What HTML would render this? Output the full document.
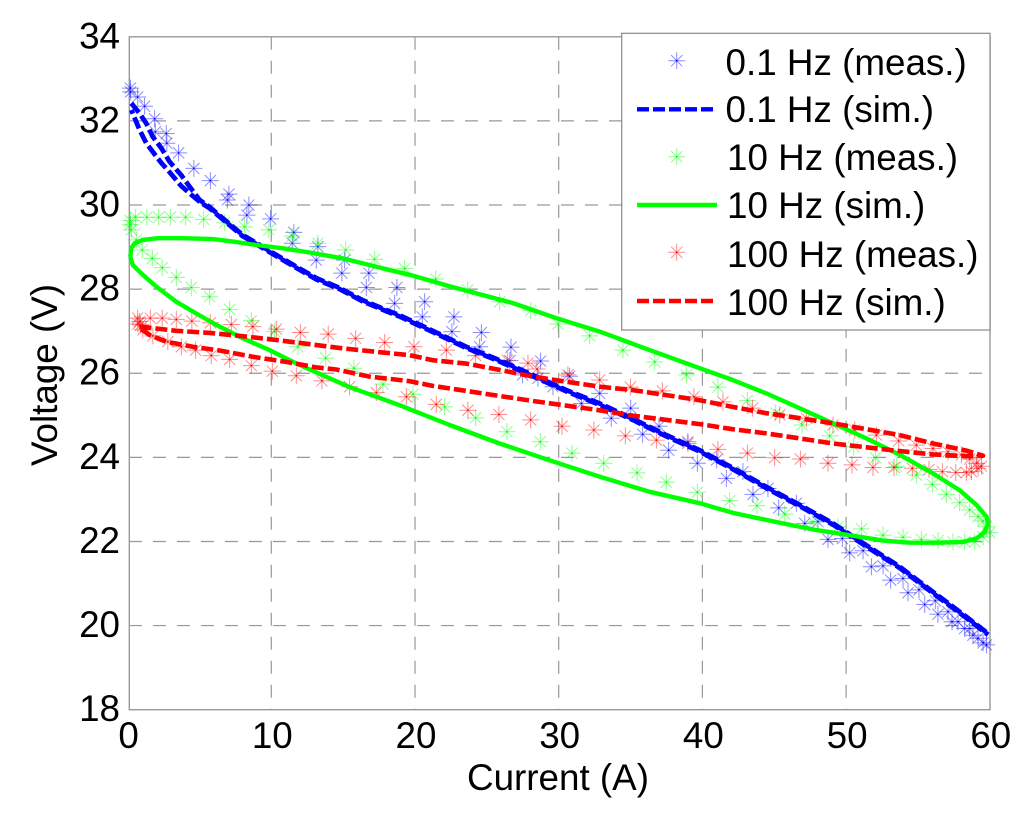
<!DOCTYPE html>
<html>
<head>
<meta charset="utf-8">
<title>Voltage vs Current</title>
<style>
html,body{margin:0;padding:0;background:#fff;}
svg{display:block;}
text{font-family:"Liberation Sans",sans-serif;font-size:36.8px;fill:#000;}
</style>
</head>
<body>
<svg id="chart" xmlns="http://www.w3.org/2000/svg" width="1024" height="817" viewBox="0 0 1024 817">
  <rect x="0" y="0" width="1024" height="817" fill="#fff"/>
  <g id="grid"></g>
  <rect x="129.3" y="36.8" width="860.7" height="672.9" fill="none" stroke="#999" stroke-width="1.4"/>
  <g id="ticks"></g>
  <g id="marks"></g>
  <text x="558" y="790" text-anchor="middle">Current (A)</text>
  <text transform="translate(57 375) rotate(-90)" text-anchor="middle">Voltage (V)</text>
  <g id="legend">
    <rect x="621.7" y="33.3" width="368.3" height="296.7" fill="#fff" stroke="#888" stroke-width="1.2"/>
    <text x="725.5" y="75">0.1 Hz (meas.)</text>
    <text x="725.5" y="122">0.1 Hz (sim.)</text>
    <text x="727" y="170">10 Hz (meas.)</text>
    <text x="727" y="218">10 Hz (sim.)</text>
    <text x="727" y="267">100 Hz (meas.)</text>
    <text x="727" y="315">100 Hz (sim.)</text>
    <line x1="637" y1="109.3" x2="717" y2="109.3" stroke="#0000ff" stroke-width="4.4" stroke-dasharray="12 4"/>
    <line x1="637" y1="205" x2="717" y2="205" stroke="#00ff00" stroke-width="4.4"/>
    <line x1="637" y1="301" x2="717" y2="301" stroke="#ff0000" stroke-width="4.4" stroke-dasharray="12 4"/>
  </g>
</svg>
<script>
// Axis tick labels
const xTicks = [0,10,20,30,40,50,60];
const yTicks = [18,20,22,24,26,28,30,32,34];

// 0.1 Hz measured
const blueMeasI = [.19,.21,.70,1.18,1.88,1.93,2.69,2.73,3.55,4.61,5.76,7.05,6.94,8.44,8.30,9.95,11.57,11.46,13.24,13.13,15.10,14.91,16.79,16.61,18.74,18.58,20.67,20.51,22.71,22.57,24.62,24.50,26.68,26.60,27.49,28.74,28.56,30.76,29.6,32.85,31.58,35.01,33.66,36.98,35.84,38.99,37.65,40.99,39.65,42.82,41.67,44.56,43.52,46.54,45.31,48.04,47.12,49.74,48.74,51.18,50.25,52.57,51.76,53.96,53.10,55.07,54.31,56.21,55.47,57.09,56.39,57.79,57.37,58.25,58.6,58.83,59.18,59.53,59.77];
const blueMeasV = [32.78,32.69,32.57,32.35,32.05,31.74,31.70,31.47,31.24,30.87,30.58,30.26,30.12,30.0,29.76,29.67,29.35,29.09,29.01,28.69,28.69,28.38,28.38,28.04,28.04,27.66,27.70,27.34,27.34,26.99,26.97,26.63,26.62,26.30,25.96,26.29,25.88,25.93,25.68,25.52,25.28,25.17,24.93,24.74,24.55,24.37,24.17,23.94,23.86,23.66,23.50,23.26,23.12,22.91,22.80,22.47,22.43,22.07,22.05,21.78,21.73,21.42,21.40,21.12,21.08,20.85,20.78,20.59,20.50,20.33,20.27,20.09,20.09,19.93,19.93,19.77,19.70,19.59,19.54];

// 0.1 Hz simulated (outbound + return branch)
const blueSimI = [.26,.83,1.30,1.76,2.35,2.92,3.74,4.31,5.01,5.71,6.61,8.0,9.19,10.37,11.76,13.15,14.75,16.35,18.03,18.93,21.23,23.57,25.89,28.19,30.53,32.85,35.15,37.49,39.81,42.11,44.45,46.77,49.09,51.41,53.73,56.05,58.37,59.88];
const blueSimOutV = [32.42,32.18,31.94,31.62,31.35,31.03,30.71,30.44,30.12,29.95,29.69,29.29,29.05,28.81,28.53,28.26,28.03,27.74,27.50,27.38,27.01,26.63,26.31,25.96,25.60,25.28,24.92,24.53,24.17,23.75,23.30,22.87,22.43,21.91,21.40,20.80,20.21,19.81];
const blueSimBackV = [32.26,31.79,31.47,31.26,31.0,30.78,30.45,30.28,30.08,29.92,29.66,29.26,29.02,28.78,28.50,28.23,28.00,27.71,27.47,27.35,26.98,26.60,26.28,25.93,25.57,25.25,24.89,24.50,24.14,23.72,23.27,22.84,22.40,21.88,21.37,20.77,20.18,19.78];

// 10 Hz measured
const greenMeasI = [.19,.19,.26,.56,1.34,2.16,2.97,4.04,5.29,6.75,8.14,9.83,11.46,13.24,15.17,17.19,19.28,21.44,23.66,25.89,28.05,29.95,32.15,34.47,36.68,38.89,41.08,43.13,45.10,46.93,48.86,50.53,52.04,53.50,54.89,56.0,56.98,57.9,58.6,59.18,59.53,59.77,60.0,59.53,58.95,58.25,57.44,56.40,55.24,53.96,52.57,51.07,49.44,47.70,45.73,43.80,41.90,39.65,37.49,35.45,33.13,30.92,28.72,26.40,24.22,22.06,19.86,17.77,15.75,13.78,11.85,10.23,8.61,7.10,5.71,4.43,3.39,2.41,1.72,1.02,.6];
const greenMeasV = [29.63,29.53,29.41,29.71,29.71,29.71,29.71,29.71,29.66,29.58,29.48,29.41,29.26,29.09,28.93,28.71,28.49,28.24,27.98,27.70,27.49,27.17,26.89,26.55,26.27,25.96,25.67,25.35,25.06,24.77,24.51,24.25,23.99,23.78,23.58,23.36,23.12,22.92,22.75,22.59,22.49,22.35,22.21,22.11,21.99,21.99,21.99,22.02,22.05,22.10,22.15,22.30,22.35,22.46,22.65,22.85,22.97,23.17,23.41,23.63,23.86,24.10,24.37,24.61,24.94,25.20,25.50,25.74,26.12,26.36,26.63,26.99,27.25,27.52,27.82,28.04,28.28,28.51,28.73,28.93,29.17];

// 10 Hz simulated (closed loop)
const greenSimI = [.19,.26,.49,1.06,2.11,3.85,5.94,7.33,8.96,10.81,12.67,14.98,17.31,19.63,22.41,26.79,29.84,32.85,36.33,39.81,42.11,44.45,46.77,49.07,51.41,53.73,56.03,57.9,59.07,59.77,59.88,59.65,59.07,58.14,56.51,54.43,52.57,50.25,47.93,45.61,42.13,39.81,36.33,32.85,29.37,25.89,22.41,18.93,15.45,12.67,11.51,9.88,8.02,6.17,4.78,3.39,2.0,1.06,.37,.19];
const greenSimV = [28.77,28.97,29.09,29.17,29.21,29.21,29.19,29.13,29.05,28.97,28.87,28.73,28.53,28.34,28.07,27.67,27.31,26.99,26.55,26.12,25.84,25.52,25.17,24.81,24.45,24.06,23.62,23.22,22.87,22.59,22.43,22.23,22.07,21.99,21.97,21.97,22.02,22.15,22.27,22.43,22.68,22.91,23.18,23.54,23.93,24.33,24.77,25.24,25.67,26.09,26.27,26.55,26.83,27.15,27.42,27.70,28.06,28.34,28.57,28.77];

// 100 Hz measured
const redMeasI = [.83,.70,.90,1.58,2.41,3.39,4.47,5.76,7.22,8.72,10.35,12.02,13.96,15.87,17.89,19.93,22.18,24.22,26.43,27.86,28.49,30.64,32.85,34.99,37.21,39.41,41.43,43.48,45.38,47.24,49.09,50.60,52.11,53.66,54.89,56.05,57.09,58.02,58.6,59.07,59.42,59.18,58.72,58.37,57.63,56.70,55.77,54.61,53.33,51.87,50.41,48.74,46.82,45.03,43.13,41.08,38.99,36.80,34.64,32.45,30.23,28.05,25.84,23.68,21.48,19.40,17.31,15.45,13.52,11.74,10.07,8.61,7.10,5.82,4.73,3.74,2.80,1.76,1.06,.72];
const redMeasV = [27.23,27.31,27.15,27.31,27.31,27.28,27.24,27.20,27.16,27.11,27.05,26.97,26.93,26.83,26.73,26.63,26.55,26.42,26.31,26.24,26.10,25.96,25.84,25.67,25.58,25.44,25.32,25.17,25.01,24.93,24.77,24.65,24.53,24.39,24.29,24.21,24.13,24.06,23.96,23.86,23.79,23.74,23.66,23.64,23.64,23.66,23.71,23.74,23.76,23.76,23.82,23.86,23.96,23.99,24.10,24.19,24.33,24.41,24.51,24.65,24.74,24.89,25.02,25.12,25.26,25.44,25.54,25.68,25.82,25.94,26.05,26.18,26.33,26.42,26.55,26.63,26.75,26.89,27.03,27.17];

// 100 Hz simulated (closed loop)
const redSimI = [.83,3.39,5.71,8.0,10.35,12.67,14.98,17.31,19.63,21.23,23.57,25.89,28.21,30.53,32.85,35.15,37.49,39.81,42.11,44.45,46.77,49.07,51.41,53.73,56.05,58.37,59.53,58.37,56.03,53.73,51.41,49.09,46.77,44.45,42.11,39.81,37.49,35.17,32.85,30.53,28.21,25.89,23.57,21.23,19.63,16.84,14.52,13.13,11.04,8.72,6.40,4.54,2.69,1.53,.83];
const redSimV = [27.11,27.01,26.96,26.88,26.79,26.69,26.59,26.51,26.43,26.31,26.23,26.08,25.92,25.80,25.68,25.60,25.48,25.36,25.20,25.05,24.93,24.81,24.67,24.53,24.33,24.16,24.04,24.03,24.07,24.15,24.24,24.33,24.45,24.57,24.67,24.79,24.89,24.99,25.12,25.23,25.34,25.46,25.58,25.70,25.81,25.92,26.09,26.14,26.27,26.39,26.54,26.63,26.75,26.91,27.08];

const SVG_NS = 'http://www.w3.org/2000/svg';
const xScale = i => 127.6 + i * 14.37;
const yScale = v => 36.8 + (34 - v) * 42.056;

function make(tag, parent) {
  const el = document.createElementNS(SVG_NS, tag);
  parent.appendChild(el);
  return el;
}

function star(parent, cx, cy, color, name) {
  const g = make('g', parent);
  
  
  const r = 8.5, d = 5.6;
  const p = make('path', g);
  p.setAttribute('d', 'M' + (cx - r) + ' ' + cy + 'H' + (cx + r) + 'M' + cx + ' ' + (cy - r) + 'V' + (cy + r) +
    'M' + (cx - d) + ' ' + (cy - d) + 'L' + (cx + d) + ' ' + (cy + d) +
    'M' + (cx - d) + ' ' + (cy + d) + 'L' + (cx + d) + ' ' + (cy - d));
  p.setAttribute('stroke', color);
  p.setAttribute('stroke-opacity', '0.45');
  p.setAttribute('stroke-width', '1');
  p.setAttribute('fill', 'none');
  const c = make('circle', g);
  c.setAttribute('cx', cx);
  c.setAttribute('cy', cy);
  c.setAttribute('r', '0.9');
  c.setAttribute('fill', color);
}

function polyline(parent, xs, ys, color, width, dash, offset, name) {
  const p = make('path', parent);
  
  
  p.setAttribute('d', xs.map((x, k) => (k ? 'L' : 'M') + xScale(x).toFixed(1) + ' ' + yScale(ys[k]).toFixed(1)).join(''));
  p.setAttribute('fill', 'none');
  p.setAttribute('stroke', color);
  p.setAttribute('stroke-width', width);
  p.setAttribute('stroke-linejoin', 'round');
  if (dash) {
    p.setAttribute('stroke-dasharray', dash);
    p.setAttribute('stroke-dashoffset', offset);
  }
}

const grid = document.getElementById('grid');
xTicks.slice(1, -1).forEach(t => {
  const l = make('line', grid);
  
  
  l.setAttribute('x1', xScale(t));
  l.setAttribute('x2', xScale(t));
  l.setAttribute('y1', yScale(34));
  l.setAttribute('y2', yScale(18));
  l.setAttribute('stroke', '#999');
  l.setAttribute('stroke-width', '1.2');
  l.setAttribute('stroke-dasharray', '13 11');
});
yTicks.slice(1, -1).forEach(t => {
  const l = make('line', grid);
  
  
  l.setAttribute('x1', 129);
  l.setAttribute('x2', 990);
  l.setAttribute('y1', yScale(t));
  l.setAttribute('y2', yScale(t));
  l.setAttribute('stroke', '#999');
  l.setAttribute('stroke-width', '1.2');
  l.setAttribute('stroke-dasharray', '13 11');
});

const ticks = document.getElementById('ticks');
xTicks.forEach(t => {
  const e = make('text', ticks);
  
  
  e.setAttribute('x', xScale(t) + 1);
  e.setAttribute('y', 748);
  e.setAttribute('text-anchor', 'middle');
  e.textContent = t;
});
yTicks.forEach(t => {
  const e = make('text', ticks);
  
  
  e.setAttribute('x', 120);
  e.setAttribute('y', yScale(t) + 11.5);
  e.setAttribute('text-anchor', 'end');
  e.textContent = t;
});

const marks = document.getElementById('marks');
blueMeasI.forEach((x, k) => star(marks, xScale(x), yScale(blueMeasV[k]), '#0000ff', 'point-0-1hz-meas'));
greenMeasI.forEach((x, k) => star(marks, xScale(x), yScale(greenMeasV[k]), '#00ff00', 'point-10hz-meas'));
redMeasI.forEach((x, k) => star(marks, xScale(x), yScale(redMeasV[k]), '#ff0000', 'point-100hz-meas'));

polyline(marks, blueSimI, blueSimOutV, '#0000ff', 4.8, '12 4', 0, 'line-0-1hz-sim-outbound');
polyline(marks, blueSimI, blueSimBackV, '#0000ff', 4.8, '12 4', 8, 'line-0-1hz-sim-return');
polyline(marks, greenSimI, greenSimV, '#00ff00', 4.4, null, 0, 'line-10hz-sim');
polyline(marks, redSimI, redSimV, '#ff0000', 4.6, '12 4', 0, 'line-100hz-sim');

const legend = document.getElementById('legend');
star(legend, 676.7, 60.7, '#0000ff', 'legend-marker-0-1hz-meas');
star(legend, 676.7, 156.7, '#00ff00', 'legend-marker-10hz-meas');
star(legend, 676.7, 252.3, '#ff0000', 'legend-marker-100hz-meas');
</script>
</body>
</html>
